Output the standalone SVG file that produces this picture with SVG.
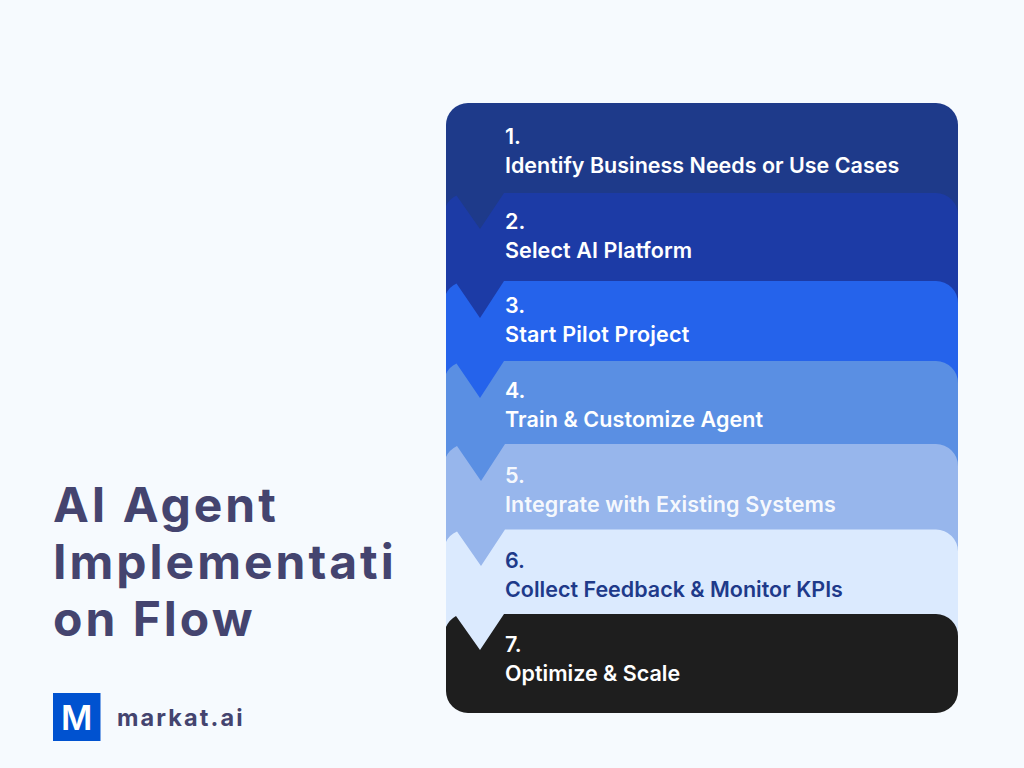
<svg xmlns="http://www.w3.org/2000/svg" width="1024" height="768" viewBox="0 0 1024 768">
<style>
text{font-family:Inter,"Liberation Sans",sans-serif}
.s{font-size:21.500px;font-weight:600;fill:#fff}
.title{font-size:48px;font-weight:700;fill:#44446f;letter-spacing:3px}
</style>
<rect width="1024" height="768" fill="#f6fafe"/>
<g id="title"><text class="title" x="53" y="522">AI Agent</text><text class="title" x="53" y="579">Implementati</text><text class="title" x="53" y="636">on Flow</text></g>
<g id="logo"><rect x="53" y="693" width="47.500" height="48" fill="#0052d0"/><text x="76.800" y="730" text-anchor="middle" font-size="34" font-weight="600" fill="#fff">M</text><text x="117" y="726" font-size="23.500" font-weight="700" fill="#44446f" letter-spacing="2.100">markat.ai</text></g>
<g id="step1"><path d="M446 260V125a22 22 0 0 1 22-22H936a22 22 0 0 1 22 22V260Z" fill="#1e3a8a"/><text class="s" x="505" y="144">1.</text><text class="s" x="505" y="173">Identify Business Needs or Use Cases</text></g>
<g id="step2"><path d="M446 340V206Q449 199 456.500 195.500L480 229L504 193H936a22 22 0 0 1 22 22V340Z" fill="#1c3ba6"/><text class="s" x="505" y="229">2.</text><text class="s" x="505" y="258" letter-spacing=".1">Select AI Platform</text></g>
<g id="step3"><path d="M446 420V294Q449 287 456.500 283.500L480 318L504 281H936a22 22 0 0 1 22 22V420Z" fill="#2563eb"/><text class="s" x="505" y="313">3.</text><text class="s" x="505" y="342" letter-spacing=".2">Start Pilot Project</text></g>
<g id="step4"><path d="M446 500V374Q449 367 456.500 363.500L480 398L504 361H936a22 22 0 0 1 22 22V500Z" fill="#5a8fe3"/><text class="s" x="505" y="398">4.</text><text class="s" x="505" y="427" letter-spacing=".1">Train &amp; Customize Agent</text></g>
<g id="step5"><path d="M446 590V457Q449 450 457 446L481 481L505 444H936a22 22 0 0 1 22 22V590Z" fill="#97b6ec"/><text class="s" x="505" y="483" fill-opacity=".93">5.</text><text class="s" x="505" y="512" fill-opacity=".93" letter-spacing=".15">Integrate with Existing Systems</text></g>
<g id="step6"><path d="M446 680V542Q449 535 457 531.500L481 566L505 529.500H936a22 22 0 0 1 22 22V680Z" fill="#dbeafe"/><text class="s" x="505" y="568" style="fill:#1e3a8a">6.</text><text class="s" x="505" y="597" style="fill:#1e3a8a">Collect Feedback &amp; Monitor KPIs</text></g>
<g id="step7"><path d="M446 691V627Q449 620 456 616L480 650L504 614H936a22 22 0 0 1 22 22V691a22 22 0 0 1-22 22H468a22 22 0 0 1-22-22Z" fill="#1e1e1e"/><text class="s" x="505" y="652">7.</text><text class="s" x="505" y="681">Optimize &amp; Scale</text></g>
<g id="connectors"/>
</svg>
